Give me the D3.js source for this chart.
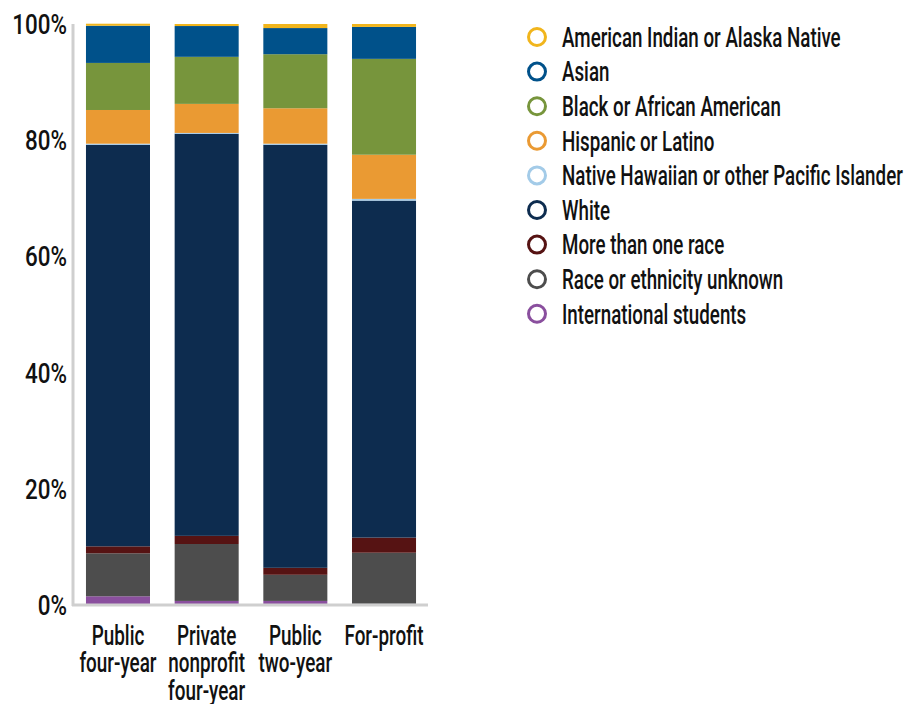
<!DOCTYPE html>
<html>
<head>
<meta charset="utf-8">
<script src="https://cdn.jsdelivr.net/npm/d3@7"></script>
<style>
  body { margin: 0; background: #fff; }
  svg text { font-family: "Roboto", "Liberation Sans", sans-serif; font-weight: 500; fill: #111; }
</style>
</head>
<body>
<svg id="chart" width="908" height="704"></svg>
<script>
// categories (x axis), bottom-to-top stack order for series
var categories = ["Public four-year", "Private nonprofit four-year", "Public two-year", "For-profit"];
var categoryLines = [["Public", "four-year"], ["Private", "nonprofit", "four-year"], ["Public", "two-year"], ["For-profit"]];

var seriesNames = ["International students", "Race or ethnicity unknown", "More than one race", "White",
  "Native Hawaiian or other Pacific Islander", "Hispanic or Latino", "Black or African American", "Asian",
  "American Indian or Alaska Native"];
var seriesColors = ["#8a4f9e", "#4d4d4d", "#561313", "#0d2c4f", "#a3cbe8", "#ea9a33", "#77953c", "#00518a", "#f1b51c"];

// percent share per category, same order as categories
var international = [1.5, 0.7, 0.7, 0.2];
var unknown       = [7.4, 9.8, 4.5, 8.8];
var multiRace     = [1.2, 1.4, 1.2, 2.6];
var white         = [69.1, 69.2, 72.8, 58.0];
var nativeHawaiian = [0.2, 0.15, 0.2, 0.3];
var hispanic      = [5.8, 5.0, 6.1, 7.6];
var black         = [8.1, 8.1, 9.3, 16.5];
var asian         = [6.4, 5.3, 4.5, 5.5];
var amIndian      = [0.35, 0.35, 0.7, 0.5];

var seriesValues = [international, unknown, multiRace, white, nativeHawaiian, hispanic, black, asian, amIndian];
var yTicks = [0, 20, 40, 60, 80, 100];

var rows = categories.map(function(c, i) {
  var r = { category: c };
  seriesNames.forEach(function(s, j) { r[s] = seriesValues[j][i]; });
  return r;
});

// the original uses a narrow font, so squeeze text horizontally
var squeezeTick = 0.8, squeezeCat = 0.7, squeezeLegend = 0.695;

var svg = d3.select("#chart");

var x = d3.scaleBand().domain(categories).range([74, 428]).paddingInner(0.278).paddingOuter(0.135);
var y = d3.scaleLinear().domain([0, 100]).range([605, 24]);

var layers = d3.stack().keys(seriesNames)(rows);

svg.append("g").selectAll(".layer")
  .data(layers)
  .enter().append("g")
  .attr("class", "layer")
  .style("fill", function(d, i) { return seriesColors[i]; })
  .selectAll("rect")
  .data(function(d) { return d; })
  .enter().append("rect")
  .attr("x", function(d) { return x(d.data.category); })
  .attr("width", x.bandwidth())
  .attr("y", function(d) { return y(d[1]); })
  .attr("height", function(d) { return y(d[0]) - y(d[1]); });

// axes lines
svg.append("line")
  .attr("x1", 73).attr("x2", 73).attr("y1", y(100)).attr("y2", y(0) + 1)
  .style("stroke", "#cfcfcf").style("stroke-width", 3);
svg.append("line")
  .attr("x1", 72).attr("x2", 428).attr("y1", y(0)).attr("y2", y(0))
  .style("stroke", "#cfcfcf").style("stroke-width", 3);

// y tick labels
svg.selectAll(".ytick")
  .data(yTicks)
  .enter().append("g")
  .attr("class", "ytick")
  .attr("transform", function(d) { return "translate(67," + y(d) + ")"; })
  .append("text")
  .attr("transform", "scale(" + squeezeTick + ",1)")
  .attr("dy", "0.36em")
  .attr("text-anchor", "end")
  .style("font-size", "28px")
  .text(function(d) { return d + "%"; });

// x category labels
svg.selectAll(".xlab")
  .data(categories)
  .enter().append("g")
  .attr("class", "xlab")
  .attr("transform", function(c) { return "translate(" + (x(c) + x.bandwidth() / 2) + ",645)"; })
  .each(function(c, i) {
    var t = d3.select(this).append("text")
      .attr("transform", "scale(" + squeezeCat + ",1)")
      .attr("text-anchor", "middle")
      .style("font-size", "27px");
    categoryLines[i].forEach(function(line, k) {
      t.append("tspan").attr("x", 0).attr("y", k * 27.5).text(line);
    });
  });

// legend, top to bottom reversed from stack
var legendItems = seriesNames.map(function(s, i) { return { name: s, color: seriesColors[i] }; }).reverse();
var legend = svg.selectAll(".legend")
  .data(legendItems)
  .enter().append("g")
  .attr("class", "legend")
  .attr("transform", function(d, i) { return "translate(537," + (37 + i * 34.6) + ")"; });
legend.append("circle")
  .attr("r", 8.5)
  .style("fill", "#fff")
  .style("stroke", function(d) { return d.color; })
  .style("stroke-width", 3);
legend.append("text")
  .attr("transform", "translate(25,0) scale(" + squeezeLegend + ",1)")
  .attr("dy", "0.36em")
  .style("font-size", "27px")
  .text(function(d) { return d.name; });
</script>
</body>
</html>
